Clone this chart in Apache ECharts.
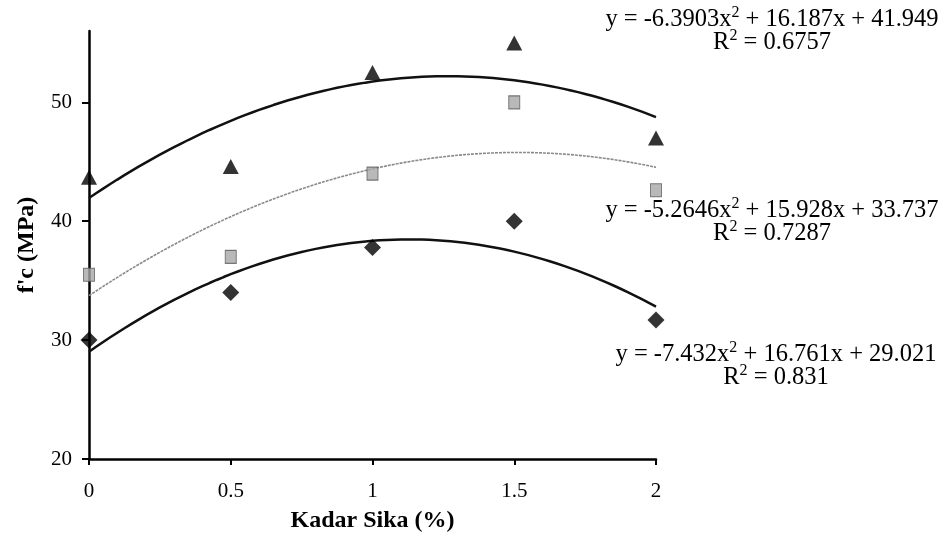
<!DOCTYPE html>
<html>
<head>
<meta charset="utf-8">
<script src="https://cdn.jsdelivr.net/npm/echarts@6/dist/echarts.min.js"></script>
<style>
  html, body { margin: 0; padding: 0; background: #fff; }
  #chart { width: 951px; height: 549px; }
</style>
</head>
<body>
<div id="chart"></div>
<script>
// Sika content (%) on the horizontal axis
const kadarSika = [0, 0.5, 1, 1.5, 2];

// Measured compressive strength f'c (MPa) for the three mixes
const seriesTriangle = [43.7, 44.6, 52.5, 55.0, 47.0];
const seriesSquare   = [35.5, 37.0, 44.0, 50.0, 42.6];
const seriesDiamond  = [30.0, 34.0, 37.8, 40.0, 31.7];

// Quadratic trend coefficients [a, b, c] for y = a x^2 + b x + c
const trendTriangle = [-6.3903, 16.187, 41.949];
const trendSquare   = [-5.2646, 15.928, 33.737];
const trendDiamond  = [-7.432, 16.761, 29.021];

// Coefficient of determination for each trend
const r2Values = ['0.6757', '0.7287', '0.831'];

// Axis tick values
const xTicks = [0, 0.5, 1, 1.5, 2];
const yTicks = [20, 30, 40, 50];

const SERIF = '"Liberation Serif", "Times New Roman", serif';

// Sample the fitted parabola across the axis range
function trendPoints(coef) {
  const pts = [];
  const steps = 80;
  for (let i = 0; i <= steps; i++) {
    const x = 2 * i / steps;
    pts.push([x, coef[0] * x * x + coef[1] * x + coef[2]]);
  }
  return pts;
}

function pairs(values) {
  return kadarSika.map((x, i) => [x, values[i]]);
}

const EQ_SIZE = 24.5;
const supRich = {
  sup: { fontFamily: SERIF, fontSize: 16, padding: [0, 0, 14, 0], fill: '#000' }
};

// One centred line of text (equation or R² line)
function eqLine(text, cx, cy) {
  return {
    type: 'text',
    x: cx, y: cy,
    style: {
      text: text,
      fontFamily: SERIF,
      fontSize: EQ_SIZE,
      fill: '#000',
      align: 'center',
      verticalAlign: 'middle',
      rich: supRich
    }
  };
}

function equationLines(coef, r2, cx, cy) {
  const eq = 'y = ' + coef[0] + 'x{sup|2} + ' + coef[1] + 'x + ' + coef[2];
  const r = 'R{sup|2} = ' + r2;
  return [eqLine(eq, cx, cy), eqLine(r, cx, cy + 23)];
}

const chart = echarts.init(document.getElementById('chart'), null, { renderer: 'canvas' });

chart.setOption({
  animation: false,
  backgroundColor: '#fff',
  grid: { left: 89, right: 295, top: 31, bottom: 90 },
  xAxis: {
    type: 'value',
    min: 0, max: 2, interval: 0.5,
    name: 'Kadar Sika (%)',
    nameLocation: 'middle',
    nameGap: 50,
    nameTextStyle: { fontFamily: SERIF, fontSize: 24, fontWeight: 'bold', color: '#000' },
    axisLine: { show: true, onZero: false, lineStyle: { color: '#000', width: 2.5 } },
    axisTick: { show: true, inside: false, length: 6, lineStyle: { color: '#000', width: 2 }, customValues: xTicks },
    axisLabel: { fontFamily: SERIF, fontSize: 21, color: '#000', margin: 22, customValues: xTicks,
      formatter: v => String(v) },
    splitLine: { show: false }
  },
  yAxis: {
    type: 'value',
    min: 20, max: 56,
    name: "f'c (MPa)",
    nameLocation: 'middle',
    nameGap: 50,
    nameTextStyle: { fontFamily: SERIF, fontSize: 24, fontWeight: 'bold', color: '#000' },
    axisLine: { show: true, onZero: false, lineStyle: { color: '#000', width: 2.5 } },
    axisTick: { show: true, inside: false, length: 7, lineStyle: { color: '#000', width: 2 }, customValues: yTicks },
    axisLabel: { fontFamily: SERIF, fontSize: 21, color: '#000', margin: 17, customValues: yTicks },
    splitLine: { show: false }
  },
  series: [
    {
      type: 'line', data: trendPoints(trendTriangle), showSymbol: false,
      lineStyle: { color: '#111', width: 2.5 }, z: 2, silent: true
    },
    {
      type: 'line', data: trendPoints(trendSquare), showSymbol: false,
      lineStyle: { color: '#8a8a8a', width: 1.6, type: [3, 1] }, z: 2, silent: true
    },
    {
      type: 'line', data: trendPoints(trendDiamond), showSymbol: false,
      lineStyle: { color: '#111', width: 2.5 }, z: 2, silent: true
    },
    {
      type: 'scatter', data: pairs(seriesTriangle), symbol: 'triangle', symbolSize: [16, 15],
      itemStyle: { color: '#000' }, z: 5
    },
    {
      type: 'scatter', data: pairs(seriesSquare), symbol: 'rect', symbolSize: [11, 13],
      itemStyle: { color: '#a8a8a8', borderColor: '#5a5a5a', borderWidth: 1 }, z: 5
    },
    {
      type: 'scatter', data: pairs(seriesDiamond), symbol: 'diamond', symbolSize: [17, 17],
      itemStyle: { color: '#000' }, z: 5
    }
  ],
  graphic: [].concat(
    equationLines(trendTriangle, r2Values[0], 772, 20),
    equationLines(trendSquare, r2Values[1], 772, 211),
    equationLines(trendDiamond, r2Values[2], 776, 355)
  )
});
</script>
</body>
</html>
